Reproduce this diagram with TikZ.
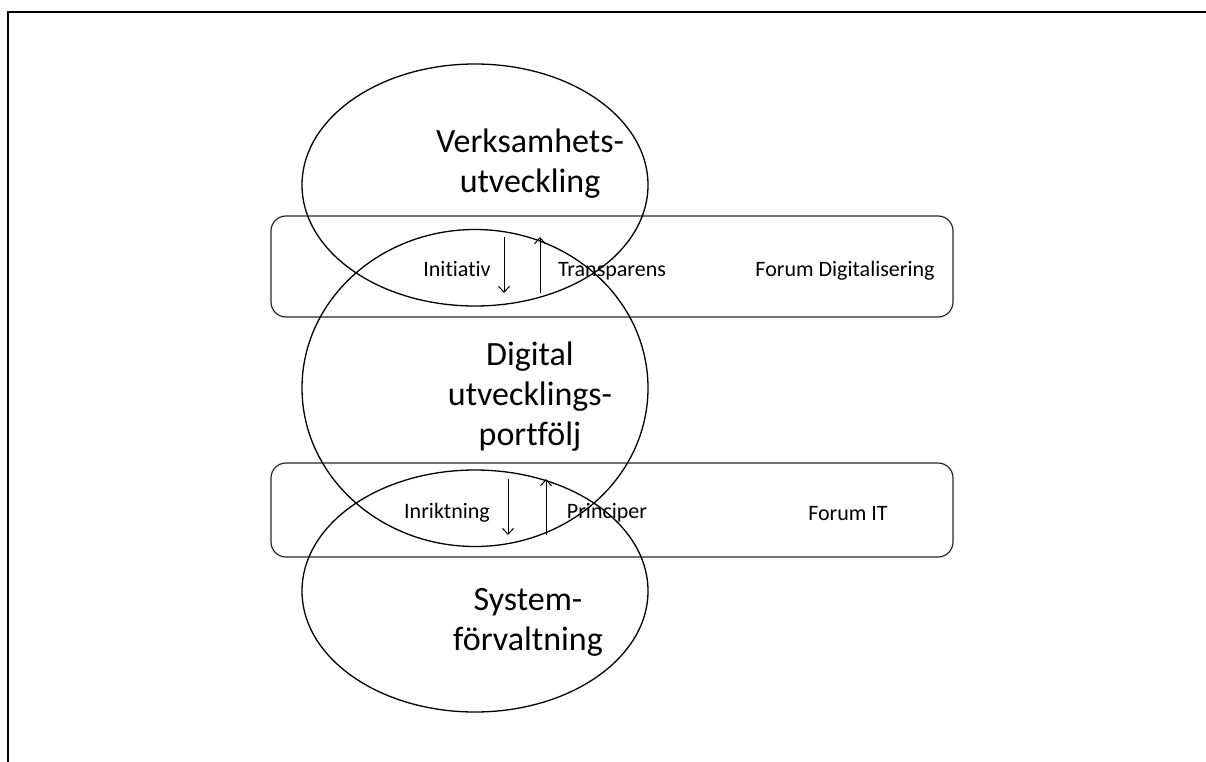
\documentclass[tikz,border=0pt]{standalone}
\usepackage{fontspec}
\setmainfont{Carlito}[Ligatures={NoCommon,NoContextual,NoRequired}]
\usetikzlibrary{shapes.geometric,arrows.meta}
\tikzset{
  oval/.style={draw, ellipse, line width=1.3pt, inner sep=0pt, minimum width=346pt},
  forum/.style={draw=black!85, rounded corners=15pt, line width=1.2pt},
  big/.style={font=\fontsize{34}{40}\selectfont, align=center, inner sep=0pt},
  small/.style={font=\fontsize{22}{26}\selectfont, inner sep=0pt, anchor=base},
  flow/.style={line width=1pt, -{Straight Barb[length=6pt,width=11pt]}}
}
\begin{document}
\begin{tikzpicture}[x=1pt,y=-1pt]
\useasboundingbox (0,0) rectangle (1206,762);
% frame
\draw[line width=1.8pt] (8,762) -- (8,12) -- (1206,12);
% forum boxes
\node[forum, minimum width=682pt, minimum height=101pt, inner sep=0pt] (r1) at (612,266.5) {};
\node[forum, minimum width=682pt, minimum height=94pt, inner sep=0pt] (r2) at (612,510) {};
% ellipses
\node[oval, minimum height=242pt] (e1) at (475,185) {};
\node[oval, minimum height=317pt] (e2) at (475,388) {};
\node[oval, minimum height=242pt] (e3) at (475,591) {};
% big texts
\node[big, anchor=base] (t1) at (530,193) {Verksamhets-\\utveckling};
\node[big, anchor=base] (t2) at (530,445) {Digital\\utvecklings-\\portfölj};
\node[big, anchor=base] (t3) at (528,650) {System-\\förvaltning};
% small texts
\node[small] (s1) at (457,276) {Initiativ};
\node[small] (s2) at (612,276) {Transparens};
\node[small] (s3) at (845,276) {Forum Digitalisering};
\node[small] (s4) at (447,518) {Inriktning};
\node[small] (s5) at (607,518) {Principer};
\node[small] (s6) at (848,520) {Forum IT};
% arrows
\coordinate (a1s) at (504,237); \coordinate (a1e) at (504,293);
\coordinate (a2s) at (540,293); \coordinate (a2e) at (540,237);
\coordinate (a3s) at (508,479); \coordinate (a3e) at (508,535);
\coordinate (a4s) at (546,535); \coordinate (a4e) at (546,479);
\draw[flow] (a1s) -- (a1e);
\draw[flow] (a2s) -- (a2e);
\draw[flow] (a3s) -- (a3e);
\draw[flow] (a4s) -- (a4e);
\end{tikzpicture}
\end{document}
